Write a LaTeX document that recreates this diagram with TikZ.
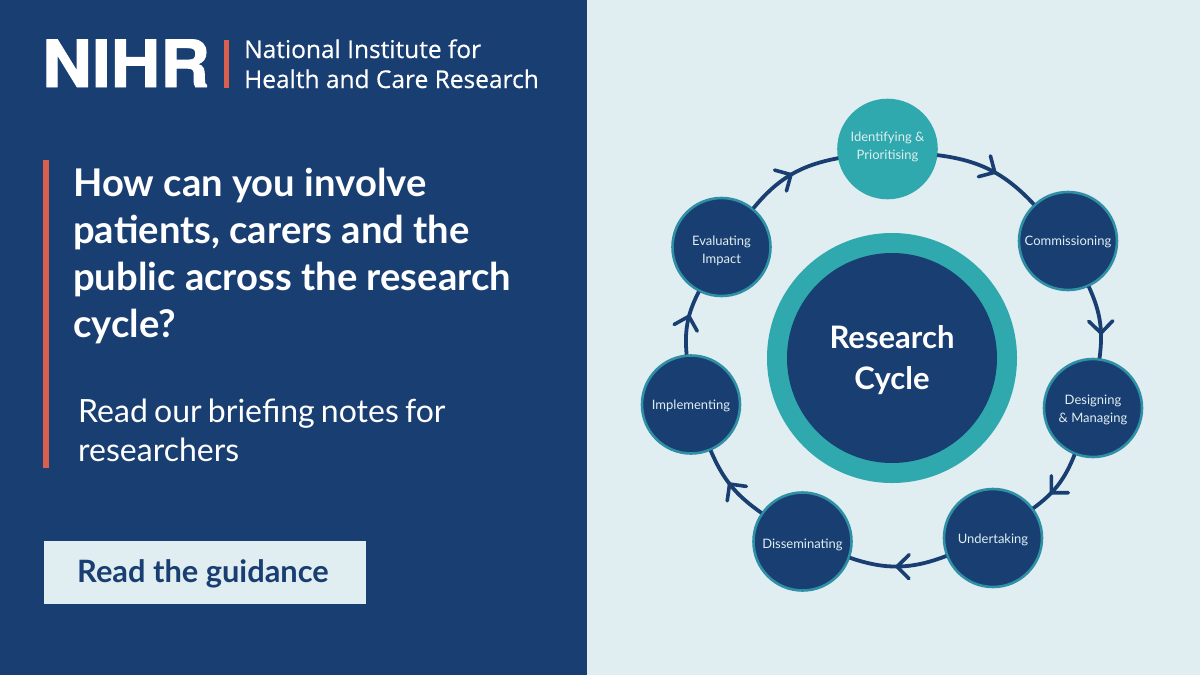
\documentclass[tikz,border=0pt]{standalone}
\usepackage{fontspec}
\usepackage{graphicx}
\setmainfont{Lato}
\newfontfamily\logofont[FakeBold=0.4]{Open Sans}
\newfontfamily\nihrfont[BoldFeatures={FakeBold=1.5}]{TeX Gyre Heros}
\usetikzlibrary{arrows.meta,decorations.markings}
\definecolor{navy}{HTML}{193E72}
\definecolor{tealc}{HTML}{2FA8AE}
\definecolor{pale}{HTML}{E0EEF1}
\definecolor{redbar}{HTML}{D9604F}
\definecolor{ringc}{HTML}{2E8FA5}
\newcommand{\lowered}[2]{\raisebox{-#1pt}[\height][\depth]{#2}}
\tikzset{
  x=1pt,y=-1pt,
  stage/.style={circle,draw=ringc,line width=2.6pt,fill=navy,minimum size=98pt,inner sep=0pt,outer sep=1pt,
    text=pale,align=center,font=\fontsize{13}{18}\selectfont},
  firststage/.style={stage,draw=tealc,fill=tealc},
  flow/.style={draw=navy,line width=3.8pt,postaction={decorate},
    decoration={markings,mark=at position #1 with {\arrow[line width=3.6pt]{Straight Barb[length=12pt,width=24pt,round]}}}},
  headline/.style={anchor=north west,inner sep=0pt,text=white,align=left,font=\fontsize{38.2}{47}\bfseries\selectfont},
  subline/.style={anchor=north west,inner sep=0pt,text=white,align=left,font=\fontsize{32}{39.5}\selectfont},
}
\begin{document}
\begin{tikzpicture}
\useasboundingbox (0,0) rectangle (1200,675);
\fill[pale] (0,0) rectangle (1200,675);
\fill[navy] (0,0) rectangle (587,675);
% logo
\node[anchor=base west,inner sep=0pt,text=white,font=\fontsize{65}{65}\nihrfont\bfseries\selectfont] (nihr) at (42,87) {\scalebox{1.055}[1]{NIHR}};
\fill[redbar] (224,40) rectangle (229,88);
\node[anchor=base west,inner sep=0pt,text=white,font=\fontsize{24.5}{24.5}\logofont\selectfont] (logoa) at (244,58) {National Institute for};
\node[anchor=base west,inner sep=0pt,text=white,font=\fontsize{24.5}{24.5}\logofont\selectfont] (logob) at (244,88) {Health and Care Research};
% left text
\fill[redbar] (43,160) rectangle (49,468);
\node[headline] (head) at (73,168) {How can you involve\\patients, carers and the\\public across the research\\cycle?};
\node[subline] (sub) at (78,398.5) {Read\hspace{6.2pt}our\hspace{6.2pt}briefing\hspace{6.2pt}notes\hspace{6.2pt}for\\researchers};
\node[fill=pale,minimum width=322pt,minimum height=63pt,inner sep=0pt,text=navy,font=\fontsize{30.8}{30.8}\bfseries\selectfont] (btn) at (205,572.5) {\kern-2pt\lowered{1.5}{Read the guidance}\kern2pt};
% centre
\node[circle,fill=tealc,minimum size=250pt,inner sep=0pt] (outer) at (892,358) {};
\node[circle,fill=navy,minimum size=210pt,inner sep=0pt,text=white,align=center,font=\fontsize{31}{41}\bfseries\selectfont] (inner) at (892,358) {\lowered{2}{Research}\\\lowered{2}{Cycle}};
% stages
\node[firststage] (s1) at (887.5,149) {\lowered{-2.5}{Identifying \&}\\\lowered{-2.5}{Prioritising}};
\node[stage] (s2) at (1068,241) {\lowered{1}{Commissioning}};
\node[stage] (s3) at (1093,408) {\lowered{2}{Designing}\\\lowered{2}{\& Managing}};
\node[stage] (s4) at (993,538) {\lowered{2}{Undertaking}};
\node[stage] (s5) at (802.5,541.5) {\lowered{3}{Disseminating}};
\node[stage] (s6) at (691,404.5) {\lowered{1}{Implementing}};
\node[stage] (s7) at (721.5,247) {\lowered{4}{Evaluating}\\\lowered{4}{Impact}};
% connectors
\draw[flow=0.56] (s1) to[bend left=20] (s2);
\draw[flow=0.68] (s2) to[bend left=16] (s3);
\draw[flow=0.68] (s3) to[bend left=16] (s4);
\draw[flow=0.53] (s4) to[bend left=20] (s5);
\draw[flow=0.55] (s5) to[bend left=16] (s6);
\draw[flow=0.62] (s6) to[bend left=16] (s7);
\draw[flow=0.52] (s7) to[bend left=20] (s1);
\end{tikzpicture}
\end{document}
